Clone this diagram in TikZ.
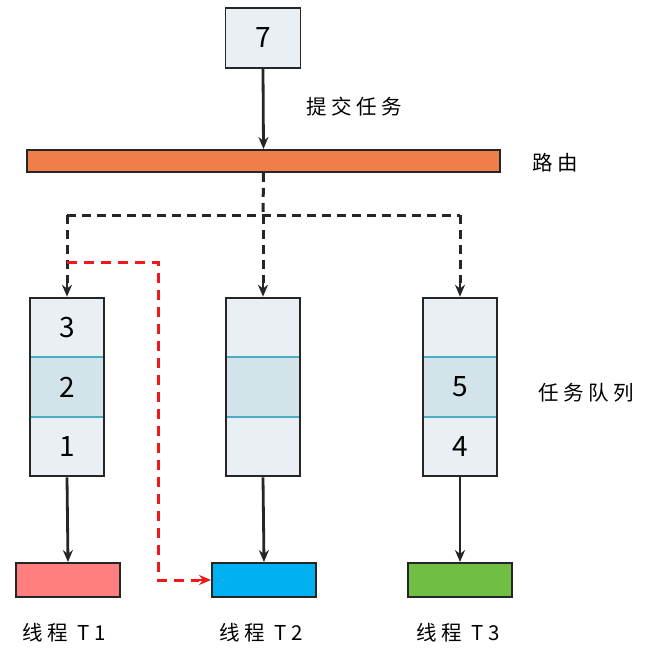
\documentclass[tikz,border=0pt]{standalone}
\usepackage{fontspec}
\setmainfont{Noto Sans CJK SC}
\newfontfamily\lblfont[LetterSpace=22]{Noto Sans CJK SC}
\usetikzlibrary{arrows.meta,fit}
\definecolor{boxfill}{HTML}{E9EFF3}
\definecolor{midfill}{HTML}{D2E3EA}
\definecolor{sepline}{HTML}{4BACC6}
\definecolor{barfill}{HTML}{EE7F4B}
\definecolor{tonefill}{HTML}{FF7F7F}
\definecolor{ttwofill}{HTML}{00B0F0}
\definecolor{tthreefill}{HTML}{70BF44}
\definecolor{edgec}{HTML}{262626}
\definecolor{redline}{HTML}{F01818}
\begin{document}
\begin{tikzpicture}[x=1pt,y=-1pt,
  cell/.style={minimum width=73pt,minimum height=59.3pt,inner sep=0pt,font=\fontsize{28}{30}\selectfont},
  lightcell/.style={cell,fill=boxfill},
  midcell/.style={cell,fill=midfill},
  outline/.style={draw=edgec,line width=1.9pt,inner sep=0pt},
  thread/.style={draw=edgec,line width=1.9pt,minimum width=104pt,minimum height=34pt,inner sep=0pt},
  tip/.style={-{Stealth[length=12pt,width=10pt]}},
  solidarrow/.style={draw=edgec,line width=2.8pt,tip},
  blackdash/.style={draw=edgec,line width=3pt,dash pattern=on 9pt off 6pt},
  reddash/.style={draw=redline,line width=3pt,dash pattern=on 10pt off 7pt},
  lbl/.style={font=\lblfont\fontsize{20.5}{24}\selectfont,inner sep=0pt},
  sep/.style={draw=sepline,line width=1.5pt}
]
\useasboundingbox (0,0) rectangle (647,653);

% task 7
\node[outline,fill=boxfill,minimum width=75pt,minimum height=60pt,font=\fontsize{28}{30}\selectfont] (seven) at (263,38) {7};
% router bar
\node[outline,fill=barfill,minimum width=473pt,minimum height=22pt] (bar) at (263.5,161) {};
\draw[solidarrow] (seven.south) -- (bar.north);
\node[lbl] (submit) at (354,107) {提交任务};
\node[lbl] (route) at (555,163) {路由};

% queues
\foreach \n/\x/\a/\b/\c in {1/67/3/2/1, 2/263/{}/{}/{}, 3/460/{}/5/4}{
  \node[lightcell] (q\n a) at (\x,327.5) {\a};
  \node[midcell] (q\n b) at (\x,387) {\b};
  \node[lightcell] (q\n c) at (\x,446.5) {\c};
  \draw[sep] (q\n b.north west) -- (q\n b.north east);
  \draw[sep] (q\n b.south west) -- (q\n b.south east);
  \node[outline,fit=(q\n a)(q\n c)] (q\n) {};
}
\node[lbl] (queuelbl) at (586,393) {任务队列};

% threads
\node[thread,fill=tonefill] (t1) at (68,580) {};
\node[thread,fill=ttwofill] (t2) at (264,580) {};
\node[thread,fill=tthreefill] (t3) at (460,580) {};
\node[lbl] (t1l) at (64,633) {线程 T1};
\node[lbl] (t2l) at (261,633) {线程 T2};
\node[lbl] (t3l) at (458,633) {线程 T3};

\foreach \n in {1,2,3}{
  \draw[solidarrow] (q\n.south) -- (t\n.north);
}

% dashed routing
\coordinate (hm) at (263,215);
\coordinate (hl) at (67,215);
\coordinate (hr) at (460,215);
\draw[blackdash] (bar.south) -- (hm);
\draw[blackdash] (hl) -- (hr);
\foreach \n/\c in {1/hl,2/hm,3/hr}{
  \draw[blackdash] (\c) -- ([yshift=14pt]q\n.north);
  \draw[draw=edgec,line width=2.8pt,tip] ([yshift=16pt]q\n.north) -- (q\n.north);
}

% red re-route
\coordinate (r0) at (67,262);
\coordinate (r1) at (158,262);
\draw[reddash] (r0) -- (r1) |- ([xshift=-12pt]t2.west);
\draw[draw=redline,line width=2.8pt,tip] ([xshift=-16pt]t2.west) -- (t2.west);
\end{tikzpicture}
\end{document}
